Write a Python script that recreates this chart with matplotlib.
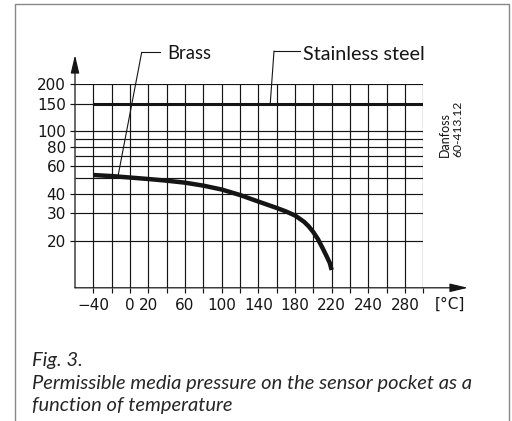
import numpy as np
import matplotlib
matplotlib.use("Agg")
import matplotlib.pyplot as plt
from matplotlib.patches import ConnectionPatch
from matplotlib.lines import Line2D

# ---- data ----
brass_temp = [-40, -20, 0, 20, 40, 60, 80, 100, 120, 140, 160, 170, 180, 190, 195, 200, 205, 210, 215, 218, 220]
brass_pressure = [52.6, 51.8, 50.7, 49.6, 48.4, 47.0, 45.0, 42.5, 39.2, 35.6, 32.4, 30.8, 29.0,
                  26.4, 24.7, 22.7, 20.5, 18.0, 15.7, 14.4, 13.0]
steel_temp = [-40, 320]
steel_pressure = [150, 150]

x_tick_pos = [-40, 0, 20, 60, 100, 140, 180, 220, 260, 300]
x_tick_labels = ["\u221240", "0", "20", "60", "100", "140", "180", "220", "240", "280"]
y_ticks = [20, 30, 40, 60, 80, 100, 150, 200]
y_tick_labels = ["20", "30", "40", "60", "80", "100", "150", "200"]
y_grid = [20, 30, 40, 50, 60, 70, 80, 90, 100, 150, 200]
x_grid = list(range(-40, 321, 20))

W, H = 512, 421
fig = plt.figure(figsize=(W / 100, H / 100), dpi=100)
fig.patch.set_facecolor("white")

def fx(x):
    return x / W

def fy(y):
    return 1 - y / H

# axes placement (pixels)
ax_l, ax_r, ax_t, ax_b = 75.0, 423.3, 84.3, 287.8
ax = fig.add_axes([fx(ax_l), fy(ax_b), (ax_r - ax_l) / W, (ax_b - ax_t) / H])
ax.set_yscale("log")
ax.set_xlim(-60, 320)
ax.set_ylim(10, 200)
for s in ax.spines.values():
    s.set_visible(False)
ax.patch.set_alpha(0)

ink = "#151515"
# grid
ax.hlines(y_grid, -60, 320, colors=ink, lw=0.85, zorder=1)
ax.vlines(x_grid, 10, 200, colors=ink, lw=0.85, zorder=1)

# ticks
all_x_labels = []
for g in x_grid:
    all_x_labels.append(x_tick_labels[x_tick_pos.index(g)] if g in x_tick_pos else "")
ax.set_xticks(x_grid)
ax.set_xticklabels(all_x_labels)
ax.set_yticks(y_ticks)
ax.set_yticklabels(y_tick_labels)
ax.yaxis.set_minor_locator(matplotlib.ticker.NullLocator())
ax.xaxis.set_minor_locator(matplotlib.ticker.NullLocator())
ax.tick_params(axis="both", direction="out", length=3.6, width=0.85, color=ink,
               labelsize=11, labelcolor=ink)
ax.tick_params(axis="x", pad=4)
ax.tick_params(axis="y", pad=3)
for t in ax.get_xticklabels() + ax.get_yticklabels():
    t.set_family("DejaVu Sans")

# data lines
ax.plot(steel_temp, steel_pressure, color=ink, lw=2.2, solid_capstyle="butt", zorder=3)
ax.plot(brass_temp, brass_pressure, color=ink, lw=3.2, solid_capstyle="butt",
        solid_joinstyle="round", zorder=3)

# axis arrows
arrow_kw = dict(arrowstyle="-|>,head_length=0.55,head_width=0.13", color=ink, lw=0.9,
                shrinkA=0, shrinkB=0, mutation_scale=20)
ax.annotate("", xy=((468 - ax_l) / (ax_r - ax_l), 0), xycoords="axes fraction",
            xytext=(0, 0), textcoords="axes fraction", arrowprops=arrow_kw, annotation_clip=False)
ax.annotate("", xy=(0, (ax_b - 55) / (ax_b - ax_t)), xycoords="axes fraction",
            xytext=(0, 0), textcoords="axes fraction", arrowprops=arrow_kw, annotation_clip=False)

fig.text(fx(450), fy(304.5), "[°C]", ha="center", va="center", fontsize=11,
         color=ink, family="DejaVu Sans")

# leaders
def leader(corner, hend, target):
    fig.add_artist(Line2D([fx(corner[0]), fx(hend)], [fy(corner[1]), fy(corner[1])],
                          transform=fig.transFigure, color=ink, lw=0.8))
    cp = ConnectionPatch(xyA=(fx(corner[0]), fy(corner[1])), coordsA=fig.transFigure,
                         xyB=target, coordsB=ax.transData, color=ink, lw=0.8)
    fig.add_artist(cp)

leader((141.7, 52.3), 160, (-13, 52.0))
leader((274, 51), 300, (153, 150))

texts_fit = []
def ftext(x, y, s, size, target_w, **kw):
    t = fig.text(fx(x), fy(y), s, fontsize=size, **kw)
    texts_fit.append((t, target_w))
    return t

lab_font = ["Lato", "DejaVu Sans"]
ftext(167.7, 59.3, "Brass", 13, 44, family=lab_font, color=ink, va="baseline")
ftext(303.3, 60, "Stainless steel", 13, 122, family=lab_font, color=ink, va="baseline")

ftext(444.5, 157, "Danfoss", 7.5, 45, family=lab_font, color=ink, rotation=90,
      ha="center", va="bottom")
ftext(457.5, 157, "60-413.12", 7.5, 56, family=lab_font, color=ink, rotation=90,
      ha="center", va="bottom")

cap_col = "#262626"
ftext(31.5, 365.7, "Fig. 3.", 14, None, family=lab_font, style="italic", color=cap_col, va="baseline")
cap2 = ftext(31.5, 389, "Permissible media pressure on the sensor pocket as a", 14, 442,
             family=lab_font, style="italic", color=cap_col, va="baseline")
ftext(31.5, 411, "function of temperature", 14, None, family=lab_font, style="italic",
      color=cap_col, va="baseline")

# frame
fig.add_artist(Line2D([fx(15), fx(15), fx(509), fx(509)], [fy(425), fy(4), fy(4), fy(425)],
                      transform=fig.transFigure, color="#888888", lw=1.0))

# fit text sizes
fig.canvas.draw()
r = fig.canvas.get_renderer()
scale_cap = None
for t, tw in texts_fit:
    if tw is None:
        continue
    bb = t.get_window_extent(r)
    length = bb.height if t.get_rotation() == 90 else bb.width
    f = tw / length
    t.set_fontsize(t.get_fontsize() * f)
    if t is cap2:
        scale_cap = t.get_fontsize()
for t, tw in texts_fit:
    if tw is None and scale_cap is not None:
        t.set_fontsize(scale_cap)

fig.savefig("out.png", dpi=100, facecolor="white")
